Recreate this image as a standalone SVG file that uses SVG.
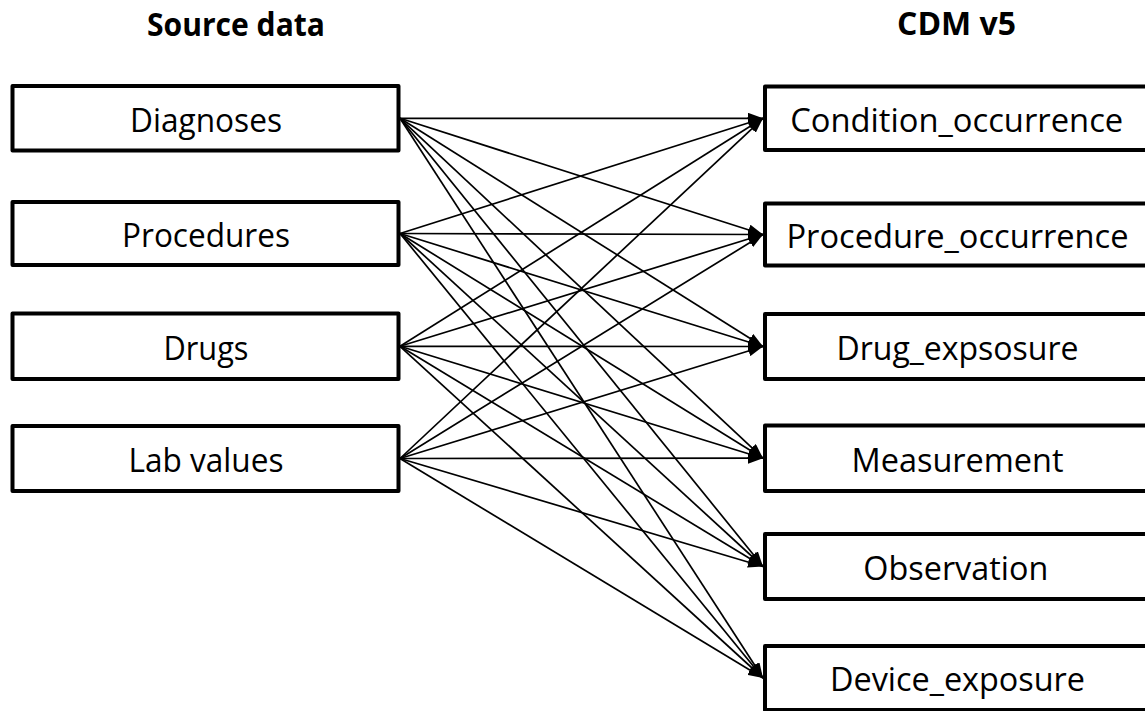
<svg xmlns="http://www.w3.org/2000/svg" width="1145" height="711" viewBox="0 0 1145 711">
<style>
.box{fill:#fff;stroke:#000;stroke-width:4;stroke-linejoin:round}
.lbl{font-family:"Open Sans","Liberation Sans",sans-serif;font-size:33px;fill:#000;text-anchor:middle}
.ttl{font-family:"Open Sans","Liberation Sans",sans-serif;font-size:32px;font-weight:bold;fill:#000;text-anchor:middle}
.con line{stroke:#000;stroke-width:1.7;marker-end:url(#arr)}
</style>
<defs>
<marker id="arr" markerUnits="userSpaceOnUse" markerWidth="15" markerHeight="11" refX="15" refY="5.5" orient="auto">
<path d="M0,0 L15,5.5 L0,11 z" fill="#000"/>
</marker>
</defs>
<rect width="1145" height="711" fill="#fff"/>
<text class="ttl" x="236" y="36" textLength="178" lengthAdjust="spacingAndGlyphs">Source data</text>
<text class="ttl" x="956.5" y="35" textLength="119" lengthAdjust="spacingAndGlyphs">CDM v5</text>

<g id="connectors" class="con">
<line x1="400" y1="118.3" x2="763" y2="118.3"/>
<line x1="400" y1="118.3" x2="763" y2="234.5"/>
<line x1="400" y1="118.3" x2="763" y2="346.5"/>
<line x1="400" y1="118.3" x2="763" y2="458.2"/>
<line x1="400" y1="118.3" x2="763" y2="566.5"/>
<line x1="400" y1="118.3" x2="763" y2="678"/>
<line x1="400" y1="233.5" x2="763" y2="118.3"/>
<line x1="400" y1="233.5" x2="763" y2="234.5"/>
<line x1="400" y1="233.5" x2="763" y2="346.5"/>
<line x1="400" y1="233.5" x2="763" y2="458.2"/>
<line x1="400" y1="233.5" x2="763" y2="566.5"/>
<line x1="400" y1="233.5" x2="763" y2="678"/>
<line x1="400" y1="346.3" x2="763" y2="118.3"/>
<line x1="400" y1="346.3" x2="763" y2="234.5"/>
<line x1="400" y1="346.3" x2="763" y2="346.5"/>
<line x1="400" y1="346.3" x2="763" y2="458.2"/>
<line x1="400" y1="346.3" x2="763" y2="566.5"/>
<line x1="400" y1="346.3" x2="763" y2="678"/>
<line x1="400" y1="458.5" x2="763" y2="118.3"/>
<line x1="400" y1="458.5" x2="763" y2="234.5"/>
<line x1="400" y1="458.5" x2="763" y2="346.5"/>
<line x1="400" y1="458.5" x2="763" y2="458.2"/>
<line x1="400" y1="458.5" x2="763" y2="566.5"/>
<line x1="400" y1="458.5" x2="763" y2="678"/>
</g>

<g id="diagnoses"><rect class="box" x="12.5" y="86" width="386" height="64.5"/><text class="lbl" x="206" y="131.5" textLength="152" lengthAdjust="spacingAndGlyphs">Diagnoses</text></g>
<g id="procedures"><rect class="box" x="12.5" y="202" width="386" height="63"/><text class="lbl" x="206" y="246.7" textLength="168" lengthAdjust="spacingAndGlyphs">Procedures</text></g>
<g id="drugs"><rect class="box" x="12.5" y="313.5" width="386" height="65.5"/><text class="lbl" x="206" y="359.5" textLength="85" lengthAdjust="spacingAndGlyphs">Drugs</text></g>
<g id="lab-values"><rect class="box" x="12.5" y="426" width="386" height="65"/><text class="lbl" x="206" y="471.8" textLength="155" lengthAdjust="spacingAndGlyphs">Lab values</text></g>

<g id="condition-occurrence"><rect class="box" x="765" y="86.5" width="384" height="63.5"/><text class="lbl" x="956.7" y="131.6" textLength="333" lengthAdjust="spacingAndGlyphs">Condition_occurrence</text></g>
<g id="procedure-occurrence"><rect class="box" x="765" y="203.5" width="384" height="62"/><text class="lbl" x="957.5" y="247.8" textLength="342" lengthAdjust="spacingAndGlyphs">Procedure_occurrence</text></g>
<g id="drug-exposure"><rect class="box" x="765" y="314" width="384" height="65"/><text class="lbl" x="957.5" y="359.8" textLength="242" lengthAdjust="spacingAndGlyphs">Drug_expsosure</text></g>
<g id="measurement"><rect class="box" x="765" y="425.5" width="384" height="65.5"/><text class="lbl" x="957.5" y="471.5" textLength="212" lengthAdjust="spacingAndGlyphs">Measurement</text></g>
<g id="observation"><rect class="box" x="765" y="534" width="384" height="65"/><text class="lbl" x="955.8" y="579.8" textLength="185" lengthAdjust="spacingAndGlyphs">Observation</text></g>
<g id="device-exposure"><rect class="box" x="765" y="646" width="384" height="64"/><text class="lbl" x="957.5" y="691.3" textLength="255" lengthAdjust="spacingAndGlyphs">Device_exposure</text></g>
</svg>
